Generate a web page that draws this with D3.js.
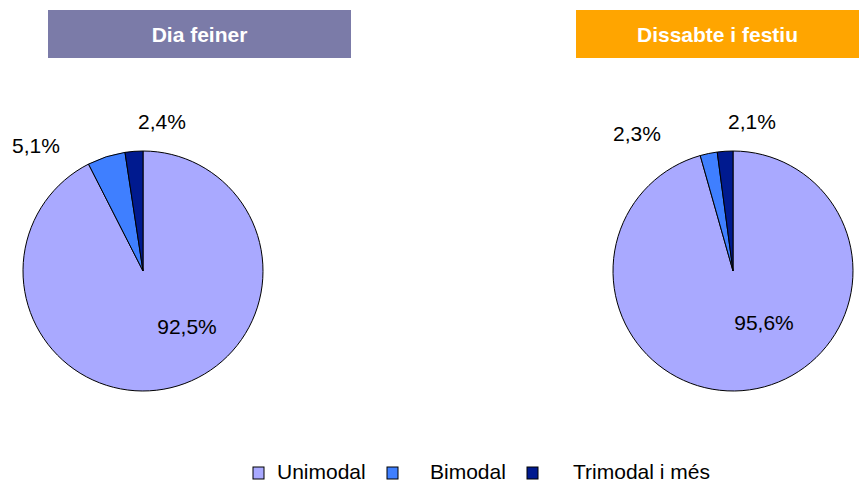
<!DOCTYPE html>
<html>
<head>
<meta charset="utf-8">
<script src="https://cdn.jsdelivr.net/npm/d3@7"></script>
<style>
  body { margin: 0; background: #fff; }
  svg { display: block; font-family: "Liberation Sans", Arial, sans-serif; }
</style>
</head>
<body>
<svg width="866" height="485"></svg>
<script>
var categories = ["Unimodal", "Bimodal", "Trimodal i més"];
var colors = ["#a9a9ff", "#3f7fff", "#001a8f"];
var titles = ["Dia feiner", "Dissabte i festiu"];
var titleColors = ["#7b7ba8", "#ffa500"];
var feiner = [92.5, 5.1, 2.4];
var festiu = [95.6, 2.3, 2.1];
// label positions (offset from center)
var labelPos = [
  [[44, 55], [-107, -126], [19, -150]],
  [[31, 51], [-96, -138], [19, -150]]
];

var svg = d3.select("svg");
var radius = 120;
var fmt = function(v) { return v.toFixed(1).replace(".", ",") + "%"; };

var charts = [
  { title: titles[0], color: titleColors[0], values: feiner, cx: 143, box: [48, 351] },
  { title: titles[1], color: titleColors[1], values: festiu, cx: 733, box: [576, 859] }
];

var pie = d3.pie().sort(null).value(function(d) { return d; });
var arc = d3.arc().innerRadius(0).outerRadius(radius);

charts.forEach(function(c, ci) {
  svg.append("rect")
    .attr("x", c.box[0]).attr("y", 10)
    .attr("width", c.box[1] - c.box[0]).attr("height", 48)
    .attr("fill", c.color);
  svg.append("text")
    .attr("x", (c.box[0] + c.box[1]) / 2).attr("y", 42)
    .attr("text-anchor", "middle")
    .attr("fill", "#fff")
    .attr("font-weight", "bold")
    .attr("font-size", 21)
    .text(c.title);

  var g = svg.append("g").attr("transform", "translate(" + c.cx + ",271)");
  g.selectAll("path")
    .data(pie(c.values))
    .enter()
    .append("path")
    .attr("d", arc)
    .attr("fill", function(d, i) { return colors[i]; })
    .attr("stroke", "#000")
    .attr("stroke-width", 1);

  g.selectAll("text")
    .data(c.values)
    .enter()
    .append("text")
    .attr("x", function(d, i) { return labelPos[ci][i][0]; })
    .attr("y", function(d, i) { return labelPos[ci][i][1] + 8; })
    .attr("text-anchor", "middle")
    .attr("font-size", 21)
    .attr("fill", "#000")
    .text(fmt);
});

// legend
var legendX = [253, 387, 527];
var legendTextX = [277, 430, 573];
var legend = svg.selectAll("g.legend")
  .data(categories)
  .enter()
  .append("g")
  .attr("class", "legend");
legend.append("rect")
  .attr("x", function(d, i) { return legendX[i]; })
  .attr("y", 467)
  .attr("width", 11).attr("height", 12)
  .attr("fill", function(d, i) { return colors[i]; })
  .attr("stroke", "#000");
legend.append("text")
  .attr("x", function(d, i) { return legendTextX[i]; })
  .attr("y", 479)
  .attr("font-size", 21)
  .text(function(d) { return d; });
</script>
</body>
</html>
